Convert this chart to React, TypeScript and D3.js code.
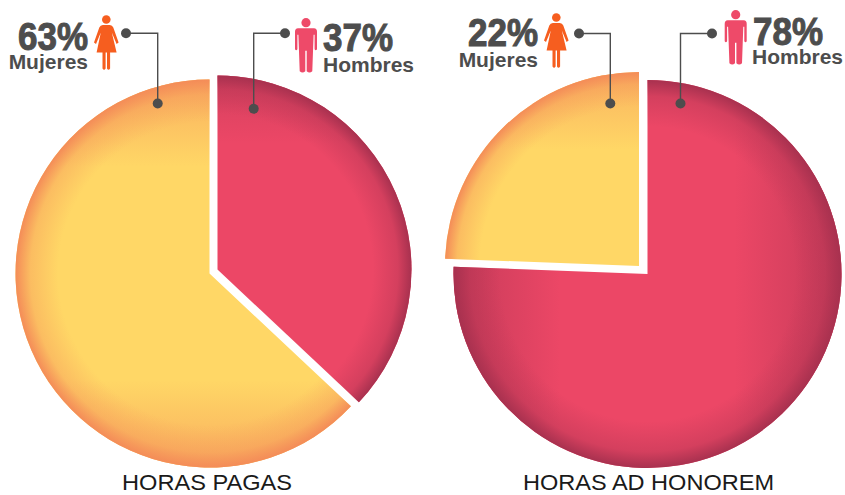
import React from "react";
import * as d3 from "d3";

const slices = ["Hombres", "Mujeres"];
const pagasShare = [37, 63];
const honoremShare = [75.6, 24.4];
const pagasLabels = ["37%", "63%"];
const honoremLabels = ["78%", "22%"];
const titles = ["HORAS PAGAS", "HORAS AD HONOREM"];

const W = 845, H = 495, R = 194;
const colors: Record<string, [string, string]> = {
  Hombres: ["#EC4766", "#A8314F"],
  Mujeres: ["#FFD766", "#F48C58"],
};
const iconColors: Record<string, string> = { Hombres: "#EE4A69", Mujeres: "#F65E1F" };
const ink = "#4D4D4D";

type Shade = { start: number; axis: "x" | "y"; axisStart: number; axisOpacity: number };
type Layout = {
  centers: Record<string, [number, number]>;
  shade: Record<string, Shade>;
  title: [number, number, number];
  dots: Record<string, [number, number, number, number]>;
  heads: Record<string, [number, number]>;
  pct: Record<string, [number, number]>;
  name: Record<string, [number, number]>;
};

const layouts: Layout[] = [
  {
    centers: { Hombres: [217.5, 269.5], Mujeres: [209.5, 273.5] },
    shade: {
      Hombres: { start: 0.8, axis: "y", axisStart: 0.65, axisOpacity: 0.35 },
      Mujeres: { start: 0.78, axis: "y", axisStart: 0.55, axisOpacity: 0.55 },
    },
    title: [207, 490, 170],
    dots: { Hombres: [285, 33.3, 253.7, 108.7], Mujeres: [126, 33.3, 157.7, 103.5] },
    heads: { Hombres: [306, 22.7], Mujeres: [106.3, 19.5] },
    pct: { Hombres: [323, 51], Mujeres: [88, 50] },
    name: { Hombres: [323, 71.5], Mujeres: [88, 69] },
  },
  {
    centers: { Hombres: [647.5, 274], Mujeres: [639, 266] },
    shade: {
      Hombres: { start: 0.76, axis: "x", axisStart: 0.45, axisOpacity: 0.55 },
      Mujeres: { start: 0.82, axis: "y", axisStart: 0.6, axisOpacity: 0.5 },
    },
    title: [648.5, 490, 251],
    dots: { Hombres: [712, 33.5, 680.5, 103.5], Mujeres: [579, 33.5, 610.3, 103.5] },
    heads: { Hombres: [735.7, 14.7], Mujeres: [556.3, 17.5] },
    pct: { Hombres: [753, 45], Mujeres: [538, 46] },
    name: { Hombres: [752, 63.5], Mujeres: [538, 66.5] },
  },
];

const pieGen = d3.pie<number>().sort(null).value((d) => d);
const arcGen = d3.arc<d3.PieArcDatum<number>>().innerRadius(0).outerRadius(R);

function Woman({ x, y, fill }: { x: number; y: number; fill: string }) {
  const p = d3.path();
  p.moveTo(x - 3.5, y + 5.5);
  p.lineTo(x + 3.5, y + 5.5);
  p.quadraticCurveTo(x + 6, y + 5.5, x + 7, y + 8);
  p.lineTo(x + 12.3, y + 23);
  p.lineTo(x + 10.3, y + 24.5);
  p.lineTo(x + 5.5, y + 13);
  p.lineTo(x + 10.3, y + 33);
  p.lineTo(x + 3.8, y + 33);
  p.lineTo(x + 3.8, y + 49);
  p.quadraticCurveTo(x + 2.2, y + 51.5, x + 0.7, y + 49);
  p.lineTo(x + 0.7, y + 33);
  p.lineTo(x - 0.7, y + 33);
  p.lineTo(x - 0.7, y + 49);
  p.quadraticCurveTo(x - 2.2, y + 51.5, x - 3.8, y + 49);
  p.lineTo(x - 3.8, y + 33);
  p.lineTo(x - 9.7, y + 33);
  p.lineTo(x - 5.5, y + 13);
  p.lineTo(x - 10.3, y + 24.5);
  p.lineTo(x - 12.3, y + 23);
  p.lineTo(x - 7, y + 8);
  p.quadraticCurveTo(x - 6, y + 5.5, x - 3.5, y + 5.5);
  p.closePath();
  return (
    <g fill={fill}>
      <circle cx={x} cy={y} r={4.3} />
      <path d={p.toString()} />
    </g>
  );
}

function Man({ x, y, fill }: { x: number; y: number; fill: string }) {
  const p = d3.path();
  p.moveTo(x - 8, y + 5.5);
  p.lineTo(x + 8, y + 5.5);
  p.quadraticCurveTo(x + 11, y + 5.5, x + 11, y + 9);
  p.lineTo(x + 11, y + 26.5);
  p.quadraticCurveTo(x + 9.8, y + 28.5, x + 8.6, y + 26.5);
  p.lineTo(x + 8.6, y + 12);
  p.lineTo(x + 7.6, y + 12);
  p.lineTo(x + 6.3, y + 48.5);
  p.quadraticCurveTo(x + 3.5, y + 51, x + 0.7, y + 48.5);
  p.lineTo(x + 0.7, y + 28);
  p.lineTo(x - 0.7, y + 28);
  p.lineTo(x - 0.7, y + 48.5);
  p.quadraticCurveTo(x - 3.5, y + 51, x - 6.3, y + 48.5);
  p.lineTo(x - 7.6, y + 12);
  p.lineTo(x - 8.6, y + 12);
  p.lineTo(x - 8.6, y + 26.5);
  p.quadraticCurveTo(x - 9.8, y + 28.5, x - 11, y + 26.5);
  p.lineTo(x - 11, y + 9);
  p.quadraticCurveTo(x - 11, y + 5.5, x - 8, y + 5.5);
  p.closePath();
  return (
    <g fill={fill}>
      <circle cx={x} cy={y} r={4.6} />
      <path d={p.toString()} />
    </g>
  );
}

function Pie({ share, labels, title, layout, id }: { share: number[]; labels: string[]; title: string; layout: Layout; id: number }) {
  const arcs = pieGen(share);
  return (
    <g>
      <defs>
        {slices.map((s) => {
          const sh = layout.shade[s];
          const rim = colors[s][1];
          const a = (1 - sh.axisStart) / 2;
          return (
            <React.Fragment key={s}>
              <radialGradient id={`r${id}${s}`} gradientUnits="userSpaceOnUse" cx={0} cy={0} r={R}>
                <stop offset={sh.start} stopColor={rim} stopOpacity={0} />
                <stop offset={sh.start + (1 - sh.start) * 0.65} stopColor={rim} stopOpacity={0.35} />
                <stop offset={1} stopColor={rim} stopOpacity={1} />
              </radialGradient>
              <linearGradient
                id={`l${id}${s}`}
                gradientUnits="userSpaceOnUse"
                x1={sh.axis === "x" ? -R : 0}
                y1={sh.axis === "y" ? -R : 0}
                x2={sh.axis === "x" ? R : 0}
                y2={sh.axis === "y" ? R : 0}
              >
                <stop offset={0} stopColor={rim} stopOpacity={sh.axisOpacity} />
                <stop offset={a} stopColor={rim} stopOpacity={0} />
                <stop offset={1 - a} stopColor={rim} stopOpacity={0} />
                <stop offset={1} stopColor={rim} stopOpacity={sh.axisOpacity} />
              </linearGradient>
            </React.Fragment>
          );
        })}
      </defs>
      {arcs.map((a, i) => {
        const s = slices[i];
        const [cx, cy] = layout.centers[s];
        const d = arcGen(a) || "";
        return (
          <g key={s} transform={`translate(${cx},${cy})`}>
            <path d={d} fill={colors[s][0]} />
            <path d={d} fill={`url(#l${id}${s})`} />
            <path d={d} fill={`url(#r${id}${s})`} />
          </g>
        );
      })}
      {slices.map((s, i) => {
        const [x1, y1, x2, y2] = layout.dots[s];
        const [hx, hy] = layout.heads[s];
        const isMan = s === "Hombres";
        const anchor = isMan ? "start" : "end";
        return (
          <g key={s}>
            <path d={`M${x1},${y1}H${x2}V${y2}`} fill="none" stroke={ink} strokeWidth={1.4} />
            <circle cx={x1} cy={y1} r={5} fill={ink} />
            <circle cx={x2} cy={y2} r={5} fill={ink} />
            {isMan ? <Man x={hx} y={hy} fill={iconColors[s]} /> : <Woman x={hx} y={hy} fill={iconColors[s]} />}
            <text
              x={layout.pct[s][0]}
              y={layout.pct[s][1]}
              textAnchor={anchor}
              fontSize={38}
              fontWeight={700}
              fill={ink}
              textLength={70}
              lengthAdjust="spacingAndGlyphs"
              stroke={ink}
              strokeWidth={1}
            >
              {labels[i]}
            </text>
            <text x={layout.name[s][0]} y={layout.name[s][1]} textAnchor={anchor} fontSize={21} fontWeight={700} fill={ink}>
              {s}
            </text>
          </g>
        );
      })}
      <text
        x={layout.title[0]}
        y={layout.title[1]}
        textAnchor="middle"
        fontSize={21.5}
        fill="#1a1a1a"
        textLength={layout.title[2]}
        lengthAdjust="spacingAndGlyphs"
      >
        {title}
      </text>
    </g>
  );
}

export default function App() {
  return (
    <svg
      width={W}
      height={H}
      viewBox={`0 0 ${W} ${H}`}
      style={{ position: "absolute", left: 0, top: 0, background: "#fff", fontFamily: "'Liberation Sans', Arial, sans-serif" }}
    >
      <Pie id={0} share={pagasShare} labels={pagasLabels} title={titles[0]} layout={layouts[0]} />
      <Pie id={1} share={honoremShare} labels={honoremLabels} title={titles[1]} layout={layouts[1]} />
    </svg>
  );
}
